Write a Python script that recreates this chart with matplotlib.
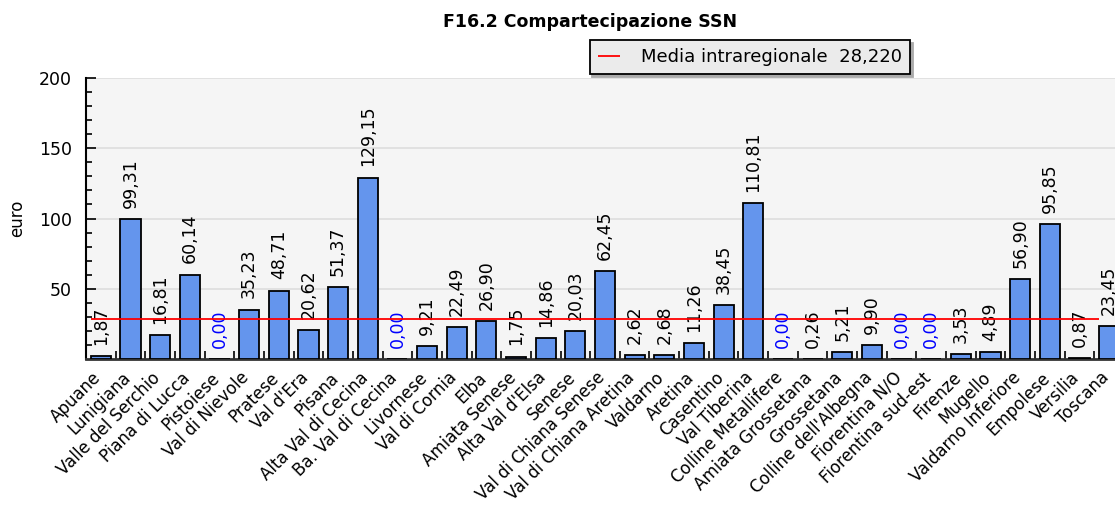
import matplotlib
matplotlib.use("Agg")
import matplotlib.pyplot as plt
import numpy as np

zone = ["Apuane", "Lunigiana", "Valle del Serchio", "Piana di Lucca", "Pistoiese",
        "Val di Nievole", "Pratese", "Val d'Era", "Pisana", "Alta Val di Cecina",
        "Ba. Val di Cecina", "Livornese", "Val di Cornia", "Elba", "Amiata Senese",
        "Alta Val d'Elsa", "Senese", "Val di Chiana Senese", "Val di Chiana Aretina",
        "Valdarno", "Aretina", "Casentino", "Val Tiberina", "Colline Metallifere",
        "Amiata Grossetana", "Grossetana", "Colline dell'Albegna", "Fiorentina N/O",
        "Fiorentina sud-est", "Firenze", "Mugello", "Valdarno Inferiore", "Empolese",
        "Versilia", "Toscana"]
valori = [1.87, 99.31, 16.81, 60.14, 0.00, 35.23, 48.71, 20.62, 51.37, 129.15,
          0.00, 9.21, 22.49, 26.90, 1.75, 14.86, 20.03, 62.45, 2.62, 2.68,
          11.26, 38.45, 110.81, 0.00, 0.26, 5.21, 9.90, 0.00, 0.00, 3.53,
          4.89, 56.90, 95.85, 0.87, 23.45]
media = 28.220

W, H = 1115, 518
fig = plt.figure(figsize=(W / 100, H / 100), dpi=100)
# the plot area runs a little past the right edge, like in the original
ax = fig.add_axes([86 / W, 1 - 359 / H, (1124 - 86) / W, (359 - 78) / H])
ax.set_facecolor("#f5f5f5")

x = np.arange(len(zone))
ax.bar(x, valori, width=0.68, color="#6495ed", edgecolor="black", linewidth=1.3, zorder=3)

for xi, v in zip(x, valori):
    lab = f"{v:.2f}".replace(".", ",")
    col = "blue" if v == 0 else "black"
    ax.annotate(lab, (xi, v), xytext=(0, 8), textcoords="offset points",
                rotation=90, ha="center", va="bottom", fontsize=12.5, color=col, zorder=4)

ax.hlines(media, -0.34, len(zone) - 1.34, color="red", linewidth=1.3, zorder=5,
          label="Media intraregionale  " + f"{media:.3f}".replace(".", ","))

ax.set_xlim(-0.5, len(zone) - 0.5)
ax.set_ylim(0, 200)
ax.set_yticks([50, 100, 150, 200])
ax.set_yticks(np.arange(10, 200, 10), minor=True)
ax.tick_params(axis="y", which="major", direction="in", length=7, width=1.2, labelsize=12.5,
               pad=10, colors="black")
ax.tick_params(axis="y", which="minor", direction="in", length=4.5, width=1.2)
ax.yaxis.grid(True, color="#dddddd", linewidth=1.2, zorder=0)

# labels sit a bit left of the bar centre, ticks mark the boundaries
ax.set_xticks(x - 0.3)
ax.set_xticklabels(zone, rotation=45, ha="right", rotation_mode="anchor", fontsize=12)
ax.set_xticks(x[:-1] + 0.5, minor=True)
ax.tick_params(axis="x", which="major", length=0, pad=7)
ax.tick_params(axis="x", which="minor", direction="in", length=6, width=1.2)

for s in ["top", "right"]:
    ax.spines[s].set_visible(False)
ax.spines["left"].set_linewidth(1.5)
ax.spines["bottom"].set_linewidth(2)
ax.spines["bottom"].set_color("#333333")

ax.set_ylabel("euro", fontsize=12, labelpad=9)

fig.text(590 / W, 1 - 22 / H, "F16.2 Compartecipazione SSN", ha="center", va="center",
         fontsize=12.5, fontweight="bold")

leg = ax.legend(loc="center", bbox_to_anchor=(750 / W, 1 - 57 / H), bbox_transform=fig.transFigure,
                fancybox=False, edgecolor="black", facecolor="#ebebeb", framealpha=1,
                fontsize=13, handlelength=1.2, borderpad=0.45, handletextpad=1.2,
                shadow={"color": "#aaaaaa", "alpha": 1})
leg.get_frame().set_linewidth(1.3)

fig.savefig("out.png", dpi=100)
